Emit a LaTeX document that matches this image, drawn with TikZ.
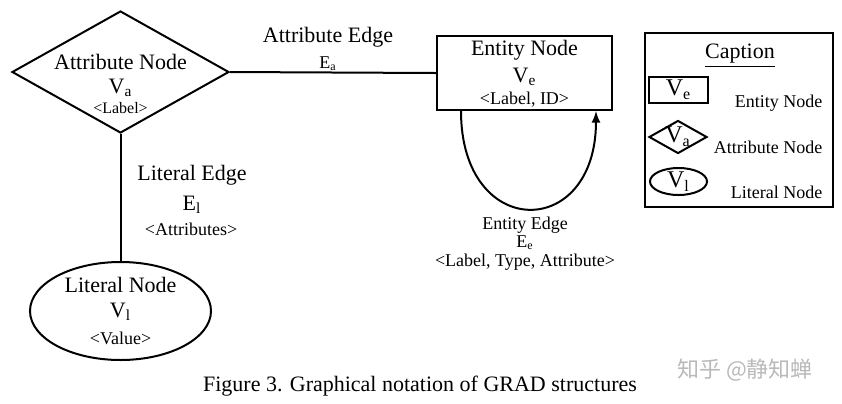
\documentclass[tikz,border=0pt]{standalone}
\usepackage{fontspec}
\setmainfont{Liberation Serif}
\newfontfamily\cjkfont{Noto Sans CJK SC}
\usetikzlibrary{shapes.geometric}

\begin{document}
\begin{tikzpicture}[x=0.5pt, y=-0.5pt, line width=1pt,
		big/.style={font=\fontsize{11}{13}\selectfont},
		small/.style={font=\fontsize{9}{11}\selectfont},
		tiny/.style={font=\fontsize{8}{10}\selectfont},
		key/.style={font=\fontsize{12}{14}\selectfont}]
				\useasboundingbox (0,0) rectangle (842,403);
				% the three kinds of node
				\node[draw, diamond, minimum width=108.5pt, minimum height=61pt, inner sep=0pt] (A)at(120.5, 72) {};
				\node[big] (A1)at(120.5, 62) {Attribute Node};
				\node[big] (A2)at(120.5, 88) {V\textsubscript{a}};
				\node[tiny] (A3)at(120.5, 108) {<Label>};
				\node[draw, rectangle, minimum width=87.5pt, minimum height=37pt] (E)at(524.5, 73) {};
				\node[big] (E1)at(524.5, 50) {Entity Node};
				\node[big] (E2)at(524.5, 77) {V\textsubscript{e}};
				\node[small] (E3)at(524.5, 100) {<Label, ID>};
				\node[draw, ellipse, minimum width=90.5pt, minimum height=49pt, inner sep=0pt] (L)at(120.5, 311) {};
				\node[big] (L1)at(120.5, 285) {Literal Node};
				\node[big] (L2)at(120.5, 312) {V\textsubscript{l}};
				\node[small] (L3)at(120.5, 338) {<Value>};
				% edges
				\draw (A.east) -- (E.west);
				\draw (A.south) -- (L.north);
				\draw[->, >=latex] ([xshift=12.5pt]E.south west) .. controls +(0, 130) and +(0, 130) .. ([xshift=-8.5pt]E.south east);
				\node[big] (Ea1)at(328, 37) {Attribute Edge};
				\node[small] (Ea2)at(328, 64) {E\textsubscript{a}};
				\node[big] (El1)at(192, 175) {Literal Edge};
				\node[big] (El2)at(192, 205) {E\textsubscript{l}};
				\node[small] (El3)at(191, 229) {<Attributes>};
				\node[small] (Ee1)at(525, 225) {Entity Edge};
				\node[small] (Ee2)at(525, 243) {E\textsubscript{e}};
				\node[small] (Ee3)at(525, 262) {<Label, Type, Attribute>};
				% caption box
				\node[draw, rectangle, minimum width=94pt, minimum height=87pt] (C)at(739, 120) {};
				\node[big] (C0)at(740, 56) {\underline{Caption}};
				\node[draw, rectangle, minimum width=29.5pt, minimum height=13pt, inner sep=0pt, label={[key]center:V\textsubscript{e}}] (CE)at(678.5, 90) {};
				\node[draw, diamond, minimum width=29pt, minimum height=16.5pt, inner sep=0pt, label={[key]center:V\textsubscript{a}}] (CA)at(678, 137) {};
				\node[draw, ellipse, minimum width=28.5pt, minimum height=13.5pt, inner sep=0pt, label={[key]center:V\textsubscript{l}}] (CL)at(678.5, 181.5) {};
				\node[small, anchor=east] (CE1)at(830, 103) {Entity Node};
				\node[small, anchor=east] (CA1)at(830, 147) {Attribute Node};
				\node[small, anchor=east] (CL1)at(830, 192) {Literal Node};
				% figure title
				\node[big] (F)at(420, 386) {Figure 3. Graphical notation of GRAD structures};
				\node[text=gray!55, font=\cjkfont\fontsize{11}{13}\selectfont] (W)at(745, 370) {知乎 @静知蝉};
\end{tikzpicture}
\end{document}
